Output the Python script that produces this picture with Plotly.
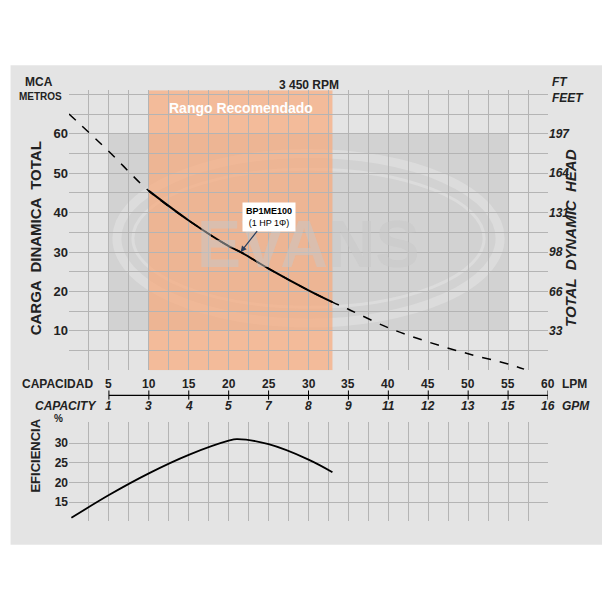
import plotly.graph_objects as go

# Curva de carga (LPM, metros)
q_head = [0, 5, 10, 15, 20, 21.5, 25, 30, 33, 35, 40, 45, 50, 55, 57]
head = [65, 55.5, 45.5, 38, 31.5, 30, 25.8, 20.3, 17.3, 15.5, 10.8, 7.2, 4.2, 1.6, 0.3]
solid_range = (10, 33)

# Curva de eficiencia
q_eff = [0.3, 5, 10, 15, 20, 21, 25, 30, 33]
eff = [11, 16.8, 22.3, 27, 30.6, 31, 29.7, 25.8, 22.6]

lpm_ticks = [5, 10, 15, 20, 25, 30, 35, 40, 45, 50, 55, 60]
gpm_labels = ["1", "3", "4", "5", "7", "8", "9", "11", "12", "13", "15", "16"]
m_ticks = [10, 20, 30, 40, 50, 60]
ft_labels = ["33", "66", "98", "131", "164", "197"]
eff_ticks = [15, 20, 25, 30]

FONT = "Liberation Sans, Arial, sans-serif"
DY = 0.013  # compensa el margen de la página

fig = go.Figure()

# dashed full curve + solid recommended portion
fig.add_trace(go.Scatter(x=q_head, y=head, mode="lines", line=dict(color="black", width=1.5, dash="dash", shape="spline"),
                         xaxis="x", yaxis="y", hoverinfo="skip"))
qs = [q for q in q_head if solid_range[0] <= q <= solid_range[1]]
hs = [h for q, h in zip(q_head, head) if solid_range[0] <= q <= solid_range[1]]
fig.add_trace(go.Scatter(x=qs, y=hs, mode="lines", line=dict(color="black", width=2, shape="spline"),
                         xaxis="x", yaxis="y", hoverinfo="skip"))
# invisible trace for the right-hand (feet) axis
fig.add_trace(go.Scatter(x=[0], y=[0], mode="markers", marker=dict(opacity=0), xaxis="x", yaxis="y3", hoverinfo="skip"))
fig.add_trace(go.Scatter(x=q_eff, y=eff, mode="lines", line=dict(color="black", width=1.8, shape="spline"),
                         xaxis="x2", yaxis="y2", hoverinfo="skip"))

grid = dict(showgrid=True, gridcolor="#b4b4b4", gridwidth=1, zeroline=False, automargin=False)
top_dom = [0.393 + DY, 0.852 + DY]
eff_dom = [0.146 + DY, 0.308 + DY]

shapes = [
    # panel background
    dict(type="rect", xref="paper", yref="paper", x0=-0.122, x1=1.13, y0=0.107 + DY, y1=0.893 + DY,
         fillcolor="#e4e4e4", line=dict(width=0), layer="below"),
    # gray rectangle
    dict(type="rect", xref="x", yref="y", x0=5, x1=55, y0=10, y1=60, fillcolor="#d2d2d2",
         line=dict(width=0), layer="below"),
    # logo ellipses
    dict(type="circle", xref="x", yref="y", x0=6, x1=54, y0=12, y1=55,
         line=dict(color="#dcdcdc", width=9), layer="below"),
    dict(type="circle", xref="x", yref="y", x0=8, x1=52, y0=16, y1=51,
         line=dict(color="#dcdcdc", width=3), layer="below"),
    # recommended range
    dict(type="rect", xref="x", yref="y", x0=10, x1=33, y0=0, y1=71, fillcolor="rgba(250,165,115,0.66)",
         line=dict(width=0), layer="below"),
    # capacity scale line
    dict(type="line", xref="x", yref="paper", x0=5, x1=60, y0=0.352 + DY, y1=0.352 + DY,
         line=dict(color="black", width=1.2)),
]
for t in lpm_ticks:
    shapes.append(dict(type="line", xref="x", yref="paper", x0=t, x1=t, y0=0.345 + DY, y1=0.36 + DY,
                       line=dict(color="black", width=1)))


def ptext(text, x, y, size=12, **kw):
    return dict(text=text, x=x, y=y + DY, xref="paper", yref="paper", showarrow=False,
                font=dict(family=FONT, size=size, color="#222"), **kw)


ann = [
    dict(text="<b>EVANS</b>", x=30, y=32, xref="x", yref="y", showarrow=False,
         font=dict(family=FONT, size=66, color="rgba(200,200,200,0.5)")),
    dict(text="<b>Rango Recomendado</b>", x=21.5, y=66.5, xref="x", yref="y", showarrow=False,
         font=dict(family=FONT, size=14, color="white")),
    dict(text="<b>BP1ME100</b><br>(1 HP 1Φ)", x=21.5, y=30, ax=25, ay=39, xref="x", yref="y", axref="x", ayref="y",
         showarrow=True, arrowhead=2, arrowsize=1, arrowwidth=1.2, bgcolor="white", borderpad=3,
         font=dict(family=FONT, size=9, color="black")),
    ptext("<b>3 450 RPM</b>", 0.5, 0.875),
    ptext("<b>MCA</b>", -0.03, 0.88, xanchor="right"),
    ptext("<b>METROS</b>", -0.01, 0.855, size=10, xanchor="right"),
    ptext("<b><i>FT</i></b>", 1.005, 0.88, xanchor="left"),
    ptext("<b><i>FEET</i></b>", 1.005, 0.855, xanchor="left"),
    ptext("<b>CARGA  DINAMICA  TOTAL</b>", -0.09, 0.61, size=15, textangle=-90),
    ptext("<b><i>TOTAL  DYNAMIC  HEAD</i></b>", 1.07, 0.61, size=15, textangle=-90),
    ptext("<b>CAPACIDAD</b>", -0.103, 0.371, xanchor="left"),
    ptext("<b>LPM</b>", 1.025, 0.371, xanchor="left"),
    ptext("<b><i>CAPACITY</i></b>", -0.075, 0.334, xanchor="left"),
    ptext("<b><i>GPM</i></b>", 1.025, 0.334, xanchor="left"),
    ptext("<b>EFICIENCIA</b>", -0.09, 0.19, size=13, textangle=-90),
    ptext("<b>%</b>", -0.035, 0.302, size=10),
]
for t in lpm_ticks:
    ann.append(dict(text=f"<b>{t}</b>", x=t, y=0.371 + DY, xref="x", yref="paper", showarrow=False,
                    font=dict(family=FONT, size=12, color="#222")))
for t, g in zip(lpm_ticks, gpm_labels):
    ann.append(dict(text=f"<b><i>{g}</i></b>", x=t, y=0.334 + DY, xref="x", yref="paper", showarrow=False,
                    font=dict(family=FONT, size=12, color="#222")))

fig.update_layout(
    width=610, height=610, showlegend=False,
    margin=dict(l=61, r=70, t=0, b=0),
    paper_bgcolor="white", plot_bgcolor="white",
    xaxis=dict(range=[0, 60], dtick=2.5, tick0=0, showticklabels=False, domain=[0, 1], **grid),
    yaxis=dict(range=[0, 71], domain=top_dom, tickvals=[v for v in range(5, 71, 5)],
               ticktext=[f"<b>{v}</b>" if v in m_ticks else "" for v in range(5, 71, 5)],
               tickfont=dict(family=FONT, size=13, color="#222"), ticks="", **grid),
    yaxis3=dict(range=[0, 71], overlaying="y", side="right", tickvals=m_ticks, automargin=False,
                ticktext=[f"<b><i>{f}</i></b>" for f in ft_labels], showgrid=False, zeroline=False,
                tickfont=dict(family=FONT, size=12, color="#222")),
    xaxis2=dict(range=[0, 60], dtick=2.5, tick0=0, showticklabels=False, anchor="y2", domain=[0, 1], **grid),
    yaxis2=dict(range=[10.2, 35.3], domain=eff_dom, anchor="x2", tickvals=eff_ticks,
                ticktext=[f"<b>{v}</b>" for v in eff_ticks],
                tickfont=dict(family=FONT, size=12, color="#222"), **grid),
    shapes=shapes, annotations=ann,
)

fig.write_html("out.html")
